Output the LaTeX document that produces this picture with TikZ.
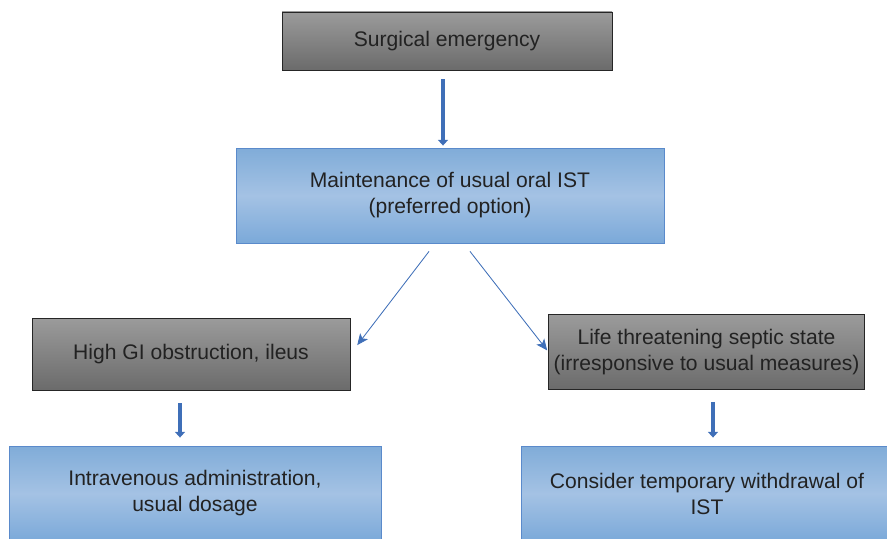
\documentclass[tikz,border=0pt]{standalone}
\usepackage{fontspec}
\setmainfont{Liberation Sans}
\usepackage{tikz}
\usetikzlibrary{arrows.meta,positioning,calc}
\definecolor{istBlue}    {RGB}{ 63, 111, 184}
\definecolor{boxBlueTop} {RGB}{128, 172, 216}
\definecolor{boxBlueMid} {RGB}{164, 194, 228}
\definecolor{boxBlueBot} {RGB}{123, 169, 217}
\definecolor{boxBlueLine}{RGB}{ 90, 138, 203}
\definecolor{boxGrayTop} {RGB}{155, 155, 155}
\definecolor{boxGrayBot} {RGB}{107, 107, 107}
\definecolor{txtDark}    {RGB}{ 34,  34,  34}
\tikzset{
  graybox/.style={draw=black!85,line width=0.6pt,top color=boxGrayTop,
        bottom color=boxGrayBot,align=center,text=txtDark,
        font=\fontsize{15}{18.5}\selectfont},
  bluebox/.style={draw=boxBlueLine,line width=0.6pt,top color=boxBlueTop,
        bottom color=boxBlueBot,middle color=boxBlueMid,align=center,
        text=txtDark,font=\fontsize{15}{18.5}\selectfont},
  thickarrow/.style={-{Triangle[width=7pt,length=4pt]},istBlue,line width=2.6pt},
  thinarrow/.style={-{Stealth[width=7pt,length=8pt,inset=2pt]},istBlue,line width=0.6pt}
}

\begin{document}
\begin{tikzpicture}
  \useasboundingbox (0,0) rectangle (22.175,-13.45);
  \clip (0,0) rectangle (22.175,-13.45);

  % ── top ───────────────────────────────────────────
  \node[graybox,minimum width=8.25cm,minimum height=1.45cm]
        (surg) at (11.175,-1.025){Surgical emergency};
  \node[bluebox,minimum width=10.7cm,minimum height=2.375cm]
        (maint) at (11.25,-4.8875){Maintenance of usual oral IST\\(preferred option)};

  % ── branches ──────────────────────────────────────
  \node[graybox,minimum width=7.95cm,minimum height=1.8cm]
        (ileus) at (4.775,-8.85){High GI obstruction, ileus};
  \node[graybox,minimum width=7.875cm,minimum height=1.875cm]
        (septic) at (17.6625,-8.8){Life threatening septic state\\(irresponsive to usual measures)};

  % ── actions ───────────────────────────────────────
  \node[bluebox,minimum width=9.3cm,minimum height=2.375cm]
        (iv) at (4.875,-12.3375){Intravenous administration,\\usual dosage};
  \node[bluebox,minimum width=9.3cm,minimum height=2.375cm]
        (withdraw) at (17.675,-12.3375){Consider temporary withdrawal of\\IST};

  % arrows
  \draw[thickarrow,shorten <=0.225cm,shorten >=0.05cm]
        ([xshift=-0.1cm]surg.south) -- ([xshift=-0.1cm]surg.south |- maint.north);
  \draw[thinarrow,shorten >=0.28cm]
        ($(maint.south)+(-0.525,-0.2)$) -- (ileus.east);
  \draw[thinarrow,shorten >=0.05cm]
        ($(maint.south)+(0.5,-0.2)$) -- (septic.west);
  \draw[thickarrow,shorten <=0.325cm,shorten >=0.2cm]
        ([xshift=-0.275cm]ileus.south) -- ([xshift=-0.275cm]ileus.south |- iv.north);
  \draw[thickarrow,shorten <=0.3cm,shorten >=0.2cm]
        ([xshift=0.1625cm]septic.south) -- ([xshift=0.1625cm]septic.south |- withdraw.north);

\end{tikzpicture}
\end{document}
